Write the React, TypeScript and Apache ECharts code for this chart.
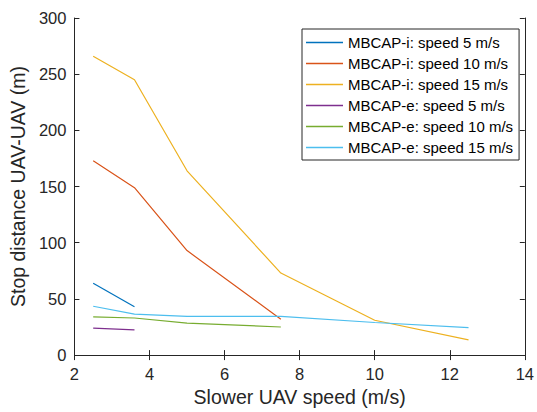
import React, { useEffect, useRef } from "react";
import * as echarts from "echarts";

const seriesNames = [
  "MBCAP-i: speed 5 m/s",
  "MBCAP-i: speed 10 m/s",
  "MBCAP-i: speed 15 m/s",
  "MBCAP-e: speed 5 m/s",
  "MBCAP-e: speed 10 m/s",
  "MBCAP-e: speed 15 m/s",
];
const speeds = [2.5, 3.6, 5, 7.5, 10, 12.5];
const mbcapI5 = [64, 43];
const mbcapI10 = [173, 149, 93, 32];
const mbcapI15 = [266, 245, 164, 73, 31, 13.5];
const mbcapE5 = [24, 22.5];
const mbcapE10 = [34, 33, 28.5, 25];
const mbcapE15 = [43.5, 36.5, 34.5, 34.5, 29, 24.5];
const colors = ["#0072BD", "#D95319", "#EDB120", "#7E2F8E", "#77AC30", "#4DBEEE"];

const allSeries = [mbcapI5, mbcapI10, mbcapI15, mbcapE5, mbcapE10, mbcapE15];

const AX = "#262626";
const FONT = "'Liberation Sans', Arial, Helvetica, sans-serif";

export default function App() {
  const ref = useRef<HTMLDivElement>(null);
  useEffect(() => {
    if (!ref.current) return;
    const chart = echarts.init(ref.current, undefined, { renderer: "svg" });
    const baseX = {
      type: "value" as const,
      min: 2,
      max: 14,
      interval: 2,
      axisLine: { show: true, lineStyle: { color: AX, width: 1 } },
      axisTick: { show: true, inside: true, length: 5, lineStyle: { color: AX } },
      splitLine: { show: false },
    };
    const baseY = {
      type: "value" as const,
      min: 0,
      max: 300,
      interval: 50,
      axisLine: { show: true, lineStyle: { color: AX, width: 1 } },
      axisTick: { show: true, inside: true, length: 5, lineStyle: { color: AX } },
      splitLine: { show: false },
    };
    chart.setOption({
      animation: false,
      backgroundColor: "#ffffff",
      textStyle: { fontFamily: FONT },
      grid: { left: 72.7, right: 8, top: 18, bottom: 55.5, containLabel: false },
      legend: {
        orient: "vertical",
        left: 302,
        top: 29,
        align: "left",
        backgroundColor: "#ffffff",
        borderColor: AX,
        borderWidth: 1,
        padding: [6, 6, 5, 4],
        itemWidth: 37,
        itemHeight: 1.5,
        itemGap: 6,
        icon: "rect",
        data: seriesNames,
        textStyle: { fontFamily: FONT, fontSize: 15, color: "#000", lineHeight: 14 },
      },
      xAxis: [
        {
          ...baseX,
          position: "bottom",
          name: "Slower UAV speed (m/s)",
          nameLocation: "middle",
          nameGap: 30,
          nameTextStyle: { fontFamily: FONT, fontSize: 19.5, color: AX },
          axisLabel: { show: true, margin: 10, fontSize: 16.5, color: AX, fontFamily: FONT },
        },
        {
          ...baseX,
          position: "top",
          axisLabel: { show: false },
        },
      ],
      yAxis: [
        {
          ...baseY,
          position: "left",
          name: "Stop distance UAV-UAV (m)",
          nameLocation: "middle",
          nameGap: 38,
          nameTextStyle: { fontFamily: FONT, fontSize: 19.5, color: AX },
          axisLabel: { show: true, margin: 8, fontSize: 16.5, color: AX, fontFamily: FONT },
        },
        {
          ...baseY,
          position: "right",
          axisLabel: { show: false },
        },
      ],
      series: allSeries.map((vals, i) => ({
        name: seriesNames[i],
        type: "line",
        xAxisIndex: 0,
        yAxisIndex: 0,
        data: vals.map((v, j) => [speeds[j], v]),
        symbol: "none",
        showSymbol: false,
        lineStyle: { color: colors[i], width: 1.2 },
        itemStyle: { color: colors[i] },
        color: colors[i],
      })),
    });
    return () => chart.dispose();
  }, []);
  return (
    <div
      ref={ref}
      style={{ position: "fixed", left: 0, top: 0, width: 537, height: 412 }}
    />
  );
}
